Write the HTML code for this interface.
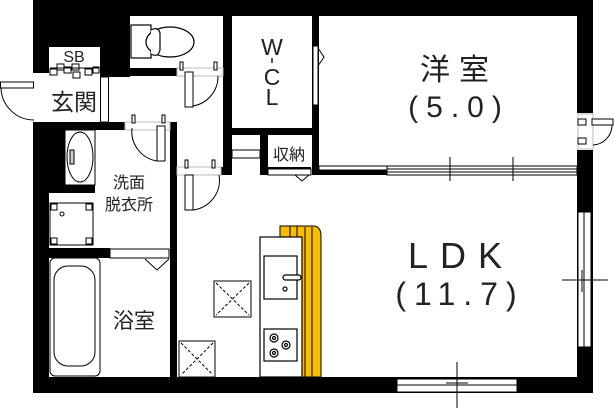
<!DOCTYPE html>
<html><head><meta charset="utf-8"><style>
html,body{margin:0;padding:0;background:#fff;}
svg{display:block;}
text{font-family:"Liberation Sans","Noto Sans CJK JP",sans-serif;fill:#222;}
</style></head><body>
<svg width="614" height="408" viewBox="0 0 614 408" xmlns="http://www.w3.org/2000/svg">
<rect width="614" height="408" fill="#fff"/>
<g fill="#000">
<rect x="33" y="0" width="560" height="16"/>
<rect x="33" y="0" width="16" height="73"/>
<rect x="33" y="122" width="16" height="271"/>
<rect x="33" y="377" width="560" height="16"/>
<rect x="577" y="0" width="16" height="113"/>
<rect x="577" y="150" width="16" height="243"/>
<rect x="49" y="16" width="81" height="31"/>
<rect x="100" y="16" width="30" height="61"/>
<rect x="100" y="68" width="77" height="8"/>
<rect x="223" y="16" width="9" height="159"/>
<rect x="312" y="16" width="7" height="159"/>
<rect x="232" y="128" width="80" height="7"/>
<rect x="260" y="128" width="8" height="47"/>
<rect x="221" y="167" width="11" height="8"/>
<rect x="260" y="167" width="51" height="8"/>
<rect x="33" y="122" width="92" height="8"/>
<rect x="170" y="122" width="7" height="255"/>
<rect x="49" y="130" width="16" height="63"/>
<rect x="49" y="185" width="46" height="8"/>
<rect x="49" y="248" width="61" height="10"/>
<rect x="319" y="170" width="68" height="5"/>
</g>
<rect x="49" y="47" width="51" height="26" fill="#fff"/>
<g fill="#fff" stroke="#000" stroke-width="1">
<rect x="50" y="69" width="7" height="6"/><rect x="57" y="64" width="7" height="6"/><rect x="64" y="67" width="7" height="6"/><rect x="72" y="64" width="7" height="6"/><rect x="73" y="72" width="7" height="6"/><rect x="85" y="69" width="7" height="6"/><rect x="93" y="67" width="6" height="6"/>
</g>
<line x1="50" y1="68" x2="99" y2="68" stroke="#000" stroke-width="1"/>
<text x="74" y="62" font-size="16" text-anchor="middle">SB</text>
<text x="74" y="110" font-size="23" text-anchor="middle">玄関</text>
<g fill="none" stroke="#000" stroke-width="1">
<rect x="0.5" y="82" width="33" height="6" fill="#fff"/>
<path d="M1 88 A33 33 0 0 0 34 120"/>
<rect x="100.5" y="77" width="8" height="45" fill="#fff"/>
</g>
<g fill="#fff" stroke="#000" stroke-width="1.2">
<rect x="131" y="25" width="20" height="33"/>
<ellipse cx="170" cy="42" rx="24" ry="15"/>
<path d="M151 30 Q158 26 160 33 L160 50 Q158 58 151 54"/>
</g>
<g fill="none" stroke="#000" stroke-width="1">
<rect x="177" y="68" width="46" height="8" fill="#fff" stroke="#bbb"/>
<rect x="185" y="72" width="8" height="35" fill="#fff"/>
<rect x="180" y="62" width="3" height="8" fill="#fff"/><rect x="214" y="62" width="3" height="8" fill="#fff"/>
<path d="M193 106 A30 30 0 0 0 218 76"/>
<rect x="125" y="122" width="45" height="8" fill="#fff" stroke="#bbb"/>
<rect x="157" y="126" width="8" height="35" fill="#fff"/>
<rect x="132" y="115" width="3" height="8" fill="#fff"/><rect x="162" y="115" width="3" height="8" fill="#fff"/>
<path d="M132 128 A30 30 0 0 0 157 161"/>
<rect x="177" y="167" width="44" height="8" fill="#fff" stroke="#bbb"/>
<rect x="185" y="175" width="8" height="35" fill="#fff"/>
<rect x="185" y="160" width="3" height="8" fill="#fff"/><rect x="212" y="160" width="3" height="8" fill="#fff"/>
<path d="M193 210 A30 30 0 0 0 219 175"/>
<rect x="232" y="150" width="28" height="8" fill="#fff"/>
<rect x="313" y="46" width="5" height="59" fill="#fff"/>
<path d="M318 48 L324 57 L318 66"/>
<rect x="268" y="169" width="43" height="6" fill="#fff"/>
<path d="M295 175 L302 181 L309 175"/>
</g>
<text x="272" y="55" font-size="23" text-anchor="middle">W</text>
<line x1="272" y1="58" x2="272" y2="63" stroke="#222" stroke-width="1.5"/>
<text x="272" y="85" font-size="23" text-anchor="middle">C</text>
<text x="272" y="105" font-size="23" text-anchor="middle">L</text>
<text x="289" y="160" font-size="16" text-anchor="middle">収納</text>
<g fill="#fff" stroke="#000" stroke-width="1">
<rect x="65" y="130" width="30" height="55"/>
<ellipse cx="80" cy="157" rx="13" ry="25"/>
<rect x="70" y="150" width="4" height="14" fill="#ccc"/>
<rect x="50" y="203" width="43" height="42"/>
<rect x="51" y="204" width="6" height="6"/><rect x="86" y="204" width="6" height="6"/><rect x="51" y="238" width="6" height="6"/><rect x="86" y="238" width="6" height="6"/>
<circle cx="62" cy="214" r="2"/>
<rect x="110" y="249" width="59" height="9"/>
<path d="M145 259 L157 270 L169 259"/>
<rect x="50" y="258" width="50" height="118" rx="5"/>
<rect x="54" y="266" width="41" height="100" rx="14"/>
</g>
<text x="129" y="188" font-size="16" text-anchor="middle">洗面</text>
<text x="129" y="210" font-size="16" text-anchor="middle">脱衣所</text>
<text x="134" y="328" font-size="21" text-anchor="middle">浴室</text>
<g fill="#fff" stroke="#000" stroke-width="1">
<rect x="214" y="281" width="37" height="36"/>
<rect x="179" y="341" width="36" height="36"/>
</g>
<g stroke="#000" stroke-width="1" stroke-dasharray="3,2">
<path d="M216 283 L249 315 M249 283 L216 315"/>
<path d="M181 343 L213 375 M213 343 L181 375"/>
</g>
<path d="M280 377 L280 226 L313 226 Q321 226 321 236 L321 377 Z" fill="#f8bd00" stroke="#000" stroke-width="1"/>
<g stroke="#000" stroke-width="1"><line x1="290" y1="226" x2="290" y2="377"/><line x1="297" y1="226" x2="297" y2="377"/><line x1="305" y1="227" x2="305" y2="377"/><line x1="312" y1="227" x2="312" y2="377"/></g>
<g fill="#fff" stroke="#000" stroke-width="1.2">
<rect x="260" y="237" width="42" height="140"/>
<rect x="264" y="256" width="33" height="43"/>
<rect x="283" y="275" width="18" height="5" rx="2.5"/>
<circle cx="285" cy="289" r="2"/>
<rect x="264" y="329" width="33" height="32"/>
<circle cx="274" cy="338" r="4"/><circle cx="286" cy="345" r="4"/><circle cx="274" cy="353" r="4"/>
<circle cx="274" cy="338" r="1.5"/><circle cx="286" cy="345" r="1.5"/><circle cx="274" cy="353" r="1.5"/>
</g>
<g fill="#fff" stroke="#000" stroke-width="1">
<rect x="319" y="166" width="68" height="4"/>
<rect x="387" y="166" width="190" height="3"/>
<rect x="387" y="169" width="190" height="3"/>
<rect x="387" y="172" width="190" height="3"/>
</g>
<g stroke="#000" stroke-width="1"><line x1="450" y1="157" x2="450" y2="181"/><line x1="513" y1="157" x2="513" y2="181"/></g>
<g fill="#fff" stroke="#000" stroke-width="1">
<rect x="578" y="114" width="15" height="35" stroke="#bbb"/>
<rect x="578" y="119" width="8" height="6"/><rect x="578" y="138" width="8" height="6"/>
<rect x="592" y="119" width="21" height="6"/>
<path d="M612 125 A20 20 0 0 1 593 145" fill="none"/>
<rect x="578" y="212" width="13" height="135"/>
<line x1="584" y1="212" x2="584" y2="347"/>
<rect x="397" y="379" width="120" height="13"/>
<line x1="397" y1="385" x2="517" y2="385"/>
</g>
<g stroke="#000" stroke-width="1"><line x1="562" y1="280" x2="608" y2="280"/><line x1="582" y1="270" x2="582" y2="292"/><line x1="457" y1="362" x2="457" y2="408"/><line x1="446" y1="383" x2="468" y2="383"/></g>
<text x="459" y="80" font-size="30" text-anchor="middle" letter-spacing="9">洋室</text>
<text x="459" y="117" font-size="30" text-anchor="middle" letter-spacing="8">(5.0)</text>
<text x="461" y="268" font-size="36" text-anchor="middle" letter-spacing="12">LDK</text>
<text x="460" y="305" font-size="32" text-anchor="middle" letter-spacing="8">(11.7)</text>
</svg>
</body></html>
